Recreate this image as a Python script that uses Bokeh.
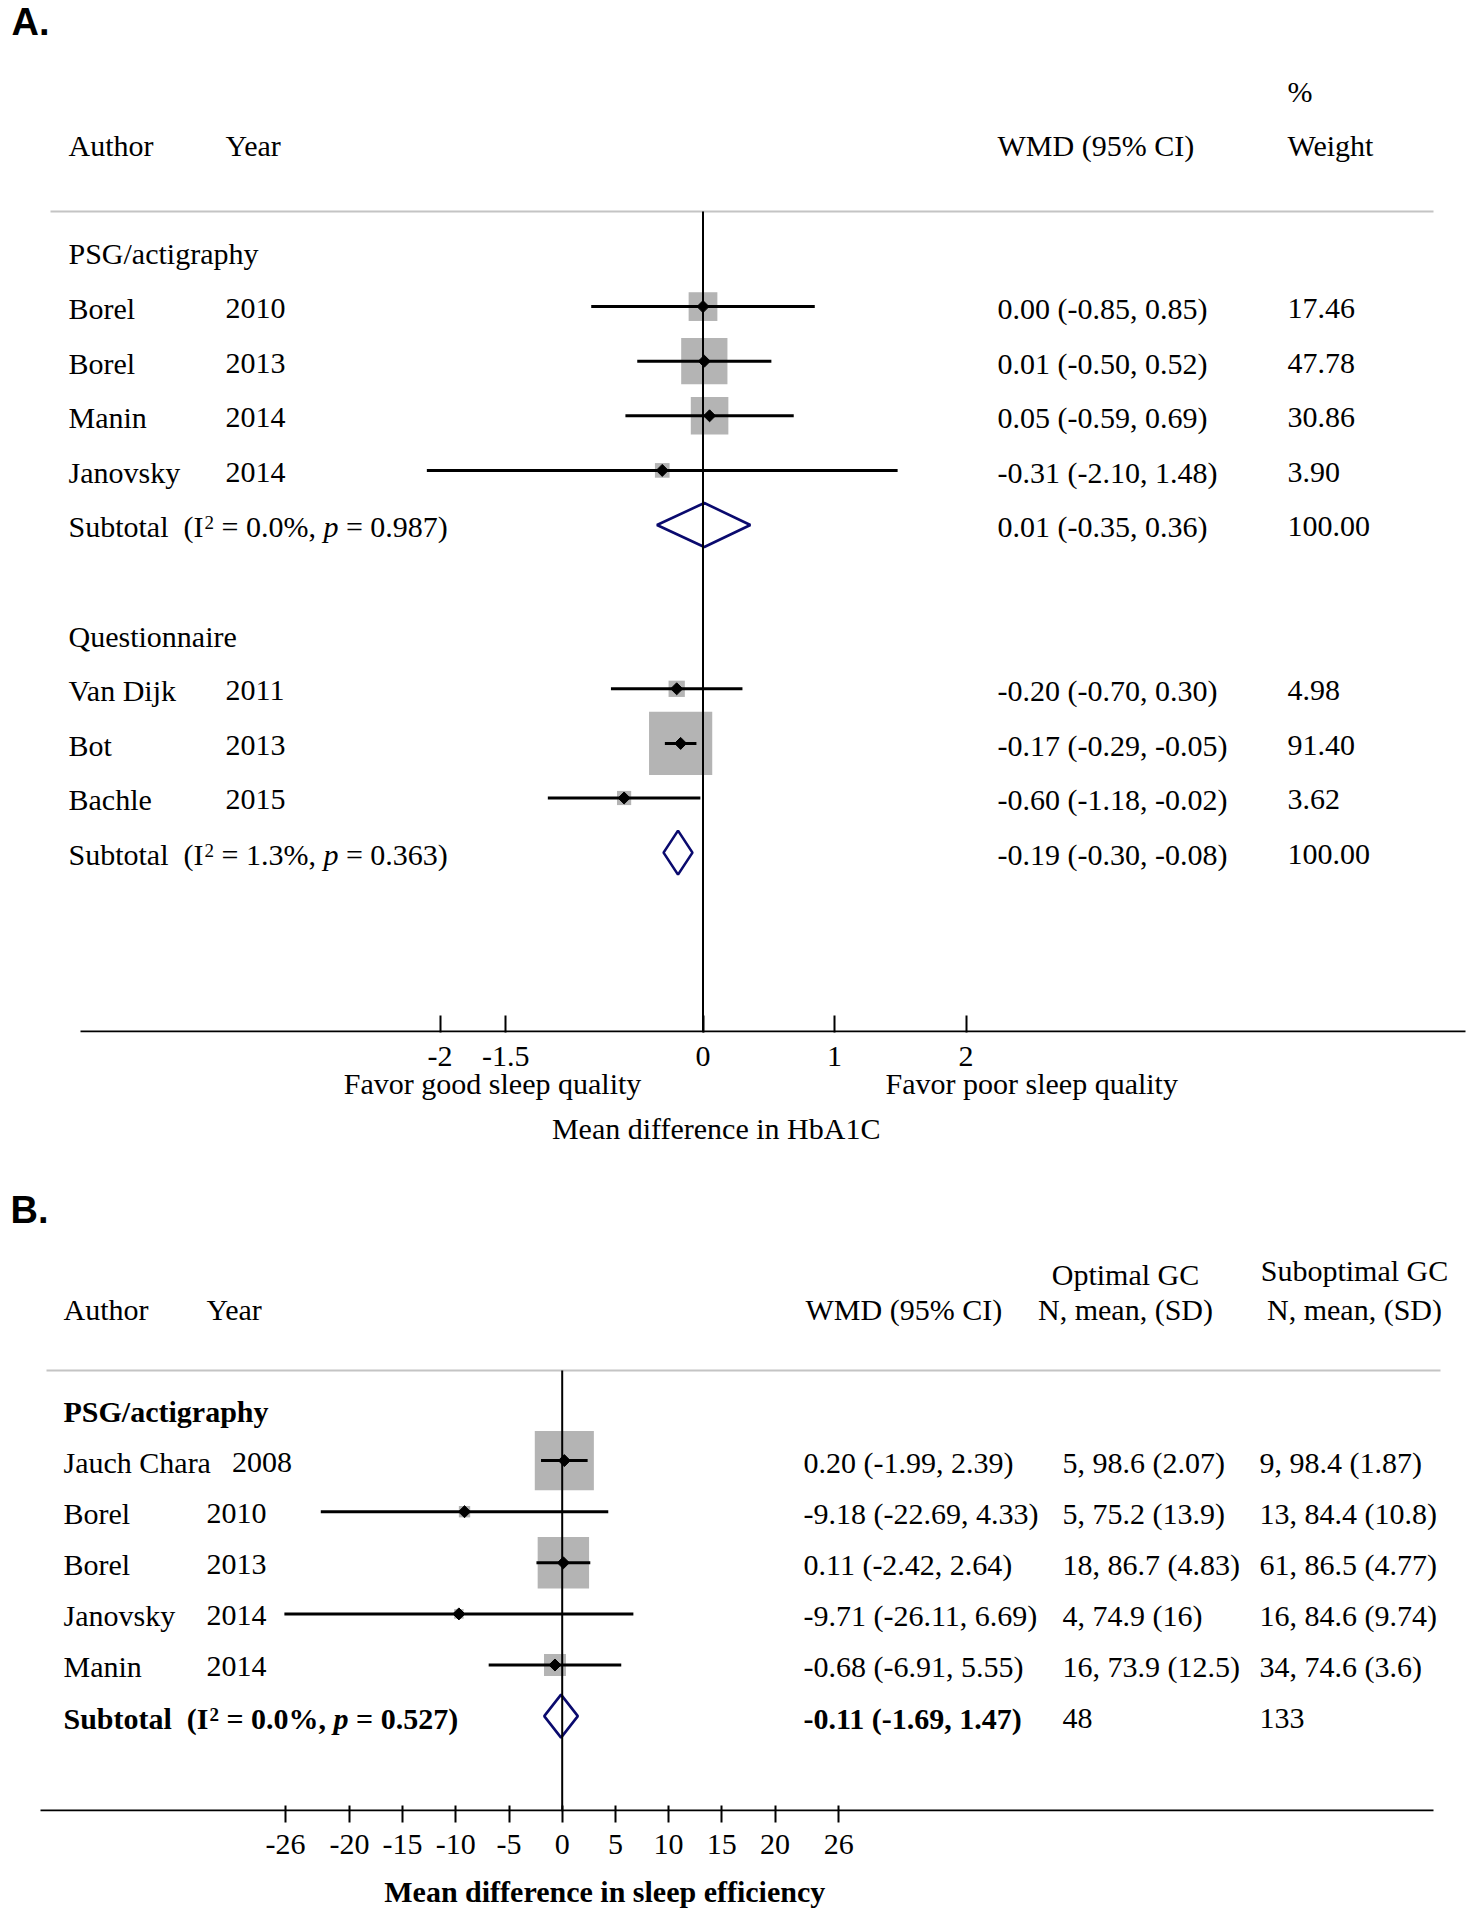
import math
from bokeh.plotting import figure
from bokeh.models import Range1d, LinearAxis, FixedTicker
from bokeh.layouts import column
from bokeh.core.properties import value
from bokeh.embed import file_html
from bokeh.resources import INLINE

# ---------------- Panel A data (HbA1c) ----------------
a_groups = ["PSG/actigraphy", "Questionnaire"]
a_group_of = [0, 0, 0, 0, 1, 1, 1]
a_authors = ["Borel", "Borel", "Manin", "Janovsky", "Van Dijk", "Bot", "Bachle"]
a_years = ["2010", "2013", "2014", "2014", "2011", "2013", "2015"]
a_est = [0.00, 0.01, 0.05, -0.31, -0.20, -0.17, -0.60]
a_lo = [-0.85, -0.50, -0.59, -2.10, -0.70, -0.29, -1.18]
a_hi = [0.85, 0.52, 0.69, 1.48, 0.30, -0.05, -0.02]
a_weight = [17.46, 47.78, 30.86, 3.90, 4.98, 91.40, 3.62]
a_sub_est = [0.01, -0.19]
a_sub_lo = [-0.35, -0.30]
a_sub_hi = [0.36, -0.08]
a_sub_i2 = ["0.0%", "1.3%"]
a_sub_p = ["0.987", "0.363"]
a_sub_weight = [100.00, 100.00]
a_ticks = [-2, -1.5, 0, 1, 2]
a_tick_labels = ["-2", "-1.5", "0", "1", "2"]

# ---------------- Panel B data (sleep efficiency) ----------------
b_group = "PSG/actigraphy"
b_authors = ["Jauch Chara", "Borel", "Borel", "Janovsky", "Manin"]
b_years = ["2008", "2010", "2013", "2014", "2014"]
b_est = [0.20, -9.18, 0.11, -9.71, -0.68]
b_lo = [-1.99, -22.69, -2.42, -26.11, -6.91]
b_hi = [2.39, 4.33, 2.64, 6.69, 5.55]
b_weight = [52.2, 1.4, 39.1, 0.9, 6.4]
b_optimal = ["5, 98.6 (2.07)", "5, 75.2 (13.9)", "18, 86.7 (4.83)", "4, 74.9 (16)", "16, 73.9 (12.5)"]
b_suboptimal = ["9, 98.4 (1.87)", "13, 84.4 (10.8)", "61, 86.5 (4.77)", "16, 84.6 (9.74)", "34, 74.6 (3.6)"]
b_sub_est = -0.11
b_sub_lo = -1.69
b_sub_hi = 1.47
b_sub_i2 = "0.0%"
b_sub_p = "0.527"
b_sub_n_opt = 48
b_sub_n_subopt = 133
b_ticks = [-26, -20, -15, -10, -5, 0, 5, 10, 15, 20, 26]

# ---------------- styling / layout ----------------
SERIF = "Liberation Serif"
SANS = "Liberation Sans"
FS = 30
SUP = 19
BOX = "#b4b4b4"
NAVY = "#0a0a6e"
GRAY = "#c4c4c4"
TB = 13       # text baseline offset from row centre
BASE_K = 0.37  # renderer places alphabetic text this fraction of size lower

R = {' ': 250, '(': 333, ')': 333, 'I': 333, '=': 564, '.': 250, '%': 833, ',': 250, 'p': 500,
     'S': 556, 'u': 500, 'b': 500, 't': 278, 'o': 500, 'a': 444, 'l': 278, 'J': 389, 'c': 444,
     'h': 500, 'C': 667, 'r': 333, 's': 389, 'n': 500, 'v': 500, 'k': 500, 'y': 500, 'e': 444,
     'i': 278, 'M': 889, 'B': 667, 'D': 722, 'V': 722, 'j': 278, 'Y': 722}
Bd = {' ': 250, '(': 333, ')': 333, 'I': 389, '=': 570, '.': 250, '%': 1000, ',': 250, 'p': 500,
      'S': 556, 'u': 556, 'b': 556, 't': 333, 'o': 500, 'a': 500, 'l': 278}


def tw(s, size=FS, bold=False):
    t = Bd if bold else R
    return sum(t.get(ch, 500) for ch in s) * size / 1000.0


def txt(p, xs, ys, texts, size=FS, style="normal", align="left", font=SERIF):
    p.text(x=xs, y=[y - BASE_K * size for y in ys], text=texts, x_range_name="px",
           text_font=value(font), text_font_size=f"{size}px", text_font_style=style,
           text_align=align, text_baseline="alphabetic", text_color="black")


def subtotal_text(p, x0, yb, i2, pval, bold=False):
    st = "bold" if bold else "normal"
    sti = "bold italic" if bold else "italic"
    sp = tw(" ", bold=bold)
    x1 = x0 + tw("Subtotal", bold=bold) + 2 * sp
    x2 = x1 + tw("(I", bold=bold) + 1
    x3 = x2 + tw("2", SUP) + sp
    mid = f"= {i2},"
    x4 = x3 + tw(mid, bold=bold) + sp
    x5 = x4 + tw("p", bold=bold) + sp
    txt(p, [x0], [yb], ["Subtotal"], style=st)
    txt(p, [x1], [yb], ["(I"], style=st)
    txt(p, [x2], [yb - 8], ["2"], size=SUP, style=st)
    txt(p, [x3], [yb], [mid], style=st)
    txt(p, [x4], [yb], ["p"], style=sti)
    txt(p, [x5], [yb], [f"= {pval})"], style=st)


def ci_str(e, l, h):
    return f"{e:.2f} ({l:.2f}, {h:.2f})"


def label_axis(p, ticks, labels, standoff, style="normal", size=FS):
    ax = LinearAxis(ticker=FixedTicker(ticks=ticks),
                    major_label_overrides={t: s for t, s in zip(ticks, labels)},
                    major_tick_line_color=None, minor_tick_line_color=None,
                    axis_line_color=None, major_label_standoff=standoff,
                    major_label_text_font=SERIF, major_label_text_font_size=f"{size}px",
                    major_label_text_font_style=style, major_label_text_color="black")
    p.add_layout(ax, "below")
    return ax


W = 1476


def make_fig(zero_px, px_per_unit, top, bottom, border_bottom):
    p = figure(frame_width=W, frame_height=bottom - top,
               x_range=Range1d((0 - zero_px) / px_per_unit, (W - zero_px) / px_per_unit),
               y_range=Range1d(bottom, top),
               output_backend="svg", toolbar_location=None,
               x_axis_location=None, y_axis_location=None,
               min_border_left=0, min_border_right=0, min_border_top=0,
               min_border_bottom=border_bottom, outline_line_color=None,
               background_fill_color="white", border_fill_color="white")
    p.extra_x_ranges = {"px": Range1d(0, W)}
    p.grid.visible = False
    return p


# ======================= PANEL A =======================
A_TOP, A_BOT = 0, 1032
pA = make_fig(702.5, 131.5, A_TOP, A_BOT, 128)
A_Y0, A_DY = 251.5, 54.6

a_row, a_label_row, a_sub_row = [], [], []
i = 0
for g in range(len(a_groups)):
    a_label_row.append(i)
    i += 1
    for k in range(len(a_authors)):
        if a_group_of[k] == g:
            a_row.append(i)
            i += 1
    a_sub_row.append(i)
    i += 2
a_y = [A_Y0 + A_DY * r for r in a_row]
a_sub_y = [A_Y0 + A_DY * r for r in a_sub_row]
a_lab_y = [A_Y0 + A_DY * r for r in a_label_row]

pA.scatter(x=a_est, y=a_y, size=[6.4 * math.sqrt(w) + 2 for w in a_weight], marker="square",
           fill_color=BOX, line_color=None)
pA.patches(xs=[[l, e, h, e] for e, l, h in zip(a_sub_est, a_sub_lo, a_sub_hi)],
           ys=[[y, y - 22, y, y + 22] for y in a_sub_y],
           fill_color=None, line_color=NAVY, line_width=2.6)
pA.segment(x0=[50], x1=[1433], y0=[211], y1=[211], x_range_name="px", line_color=GRAY, line_width=2.2)
pA.segment(x0=[0], x1=[0], y0=[211], y1=[A_BOT], line_color="black", line_width=2)
pA.segment(x0=[80], x1=[1465], y0=[1031], y1=[1031], x_range_name="px", line_color="black", line_width=2.2)
pA.segment(x0=a_lo, x1=a_hi, y0=a_y, y1=a_y, line_color="black", line_width=3)
pA.scatter(x=a_est, y=a_y, marker="square", angle=math.pi / 4, size=8.5,
           fill_color="black", line_color="black")

txt(pA, [11], [36], ["A."], size=38, style="bold", font=SANS)
txt(pA, [68, 225, 997, 1287], [156] * 4, ["Author", "Year", "WMD (95% CI)", "Weight"])
txt(pA, [1287], [102], ["%"])
txt(pA, [68] * len(a_groups), [y + TB for y in a_lab_y], a_groups)
txt(pA, [68] * len(a_authors), [y + TB for y in a_y], a_authors)
txt(pA, [max(225, 68 + tw(n) + 21) for n in a_authors], [y + TB for y in a_y], a_years)
txt(pA, [997] * len(a_est), [y + TB for y in a_y], [ci_str(e, l, h) for e, l, h in zip(a_est, a_lo, a_hi)])
txt(pA, [1287] * len(a_weight), [y + TB for y in a_y], [f"{w:.2f}" for w in a_weight])
for g in range(len(a_groups)):
    yb = a_sub_y[g] + TB
    subtotal_text(pA, 68, yb, a_sub_i2[g], a_sub_p[g])
    txt(pA, [997], [yb], [ci_str(a_sub_est[g], a_sub_lo[g], a_sub_hi[g])])
    txt(pA, [1287], [yb], [f"{a_sub_weight[g]:.2f}"])

axA = LinearAxis(ticker=FixedTicker(ticks=a_ticks),
                 major_label_overrides={t: s for t, s in zip(a_ticks, a_tick_labels)},
                 major_tick_in=17, major_tick_out=0, major_tick_line_width=2,
                 major_tick_line_color="black", minor_tick_line_color=None,
                 axis_line_color=None, major_label_standoff=14,
                 major_label_text_font=SERIF, major_label_text_font_size=f"{FS}px",
                 major_label_text_color="black")
pA.add_layout(axA, "below")
label_axis(pA, [-1.6, 2.5], ["Favor good sleep quality", "Favor poor sleep quality"], -8)
label_axis(pA, [0.1], ["Mean difference in HbA1C"], 3)

# ======================= PANEL B =======================
B_TOP, B_BOT = 1160, 1811
pB = make_fig(561.7, 10.64, B_TOP, B_BOT, 107)
B_Y0, B_DY = 1409, 51.1
b_y = [B_Y0 + B_DY * (k + 1) for k in range(len(b_authors))]
b_sub_y = B_Y0 + B_DY * (len(b_authors) + 1)

pB.scatter(x=b_est, y=b_y, size=[7.9 * math.sqrt(w) + 2 for w in b_weight], marker="square",
           fill_color=BOX, line_color=None)
pB.patches(xs=[[b_sub_lo, b_sub_est, b_sub_hi, b_sub_est]],
           ys=[[b_sub_y, b_sub_y - 21.5, b_sub_y, b_sub_y + 21.5]],
           fill_color=None, line_color=NAVY, line_width=2.6)
pB.segment(x0=[46], x1=[1440], y0=[1370], y1=[1370], x_range_name="px", line_color=GRAY, line_width=2.2)
pB.segment(x0=[0], x1=[0], y0=[1370], y1=[B_BOT], line_color="black", line_width=2)
pB.segment(x0=[40], x1=[1433], y0=[1810], y1=[1810], x_range_name="px", line_color="black", line_width=2.2)
pB.segment(x0=b_lo, x1=b_hi, y0=b_y, y1=b_y, line_color="black", line_width=3)
pB.scatter(x=b_est, y=b_y, marker="square", angle=math.pi / 4, size=8.5,
           fill_color="black", line_color="black")

txt(pB, [10], [1224], ["B."], size=38, style="bold", font=SANS)
txt(pB, [63, 206, 805], [1320] * 3, ["Author", "Year", "WMD (95% CI)"])
txt(pB, [1125, 1354], [1285, 1281], ["Optimal GC", "Suboptimal GC"], align="center")
txt(pB, [1125, 1354], [1320, 1320], ["N, mean, (SD)", "N, mean, (SD)"], align="center")
txt(pB, [63], [B_Y0 + TB], [b_group], style="bold")
txt(pB, [63] * len(b_authors), [y + TB for y in b_y], b_authors)
txt(pB, [max(206, 63 + tw(n) + 21) for n in b_authors], [y + TB for y in b_y], b_years)
txt(pB, [803] * len(b_est), [y + TB for y in b_y], [ci_str(e, l, h) for e, l, h in zip(b_est, b_lo, b_hi)])
txt(pB, [1062] * len(b_optimal), [y + TB for y in b_y], b_optimal)
txt(pB, [1259] * len(b_suboptimal), [y + TB for y in b_y], b_suboptimal)
yb = b_sub_y + TB
subtotal_text(pB, 63, yb, b_sub_i2, b_sub_p, bold=True)
txt(pB, [803], [yb], [ci_str(b_sub_est, b_sub_lo, b_sub_hi)], style="bold")
txt(pB, [1062, 1259], [yb, yb], [str(b_sub_n_opt), str(b_sub_n_subopt)])

axB = LinearAxis(ticker=FixedTicker(ticks=b_ticks),
                 major_label_overrides={t: str(t) for t in b_ticks},
                 major_tick_in=6, major_tick_out=11, major_tick_line_width=2,
                 major_tick_line_color="black", minor_tick_line_color=None,
                 axis_line_color=None, major_label_standoff=12,
                 major_label_text_font=SERIF, major_label_text_font_size=f"{FS}px",
                 major_label_text_color="black")
pB.add_layout(axB, "below")
label_axis(pB, [4.0], ["Mean difference in sleep efficiency"], 12, style="bold")

layout = column(pA, pB)
open("out.html", "w").write(file_html(layout, INLINE))
